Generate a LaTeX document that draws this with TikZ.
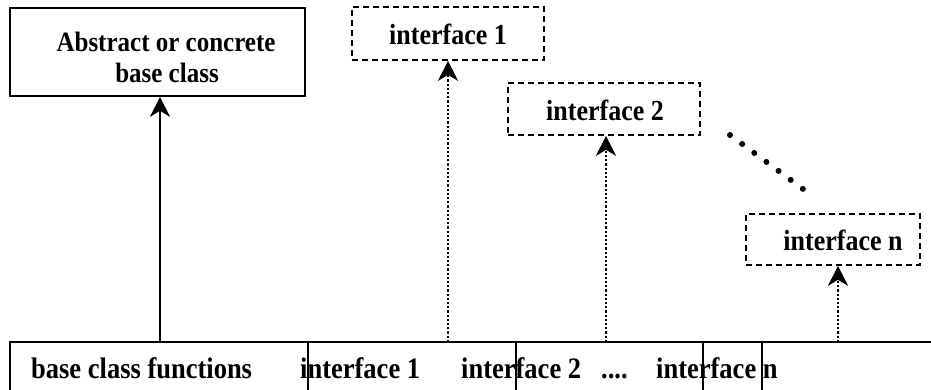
\documentclass[tikz,border=0pt]{standalone}
\usepackage{fontspec}
\usepackage{graphicx}
\setmainfont{Liberation Serif}
\usetikzlibrary{arrows.meta}
\newcommand\talltext[1]{\scalebox{1}[1.12]{#1}}
\begin{document}
\begin{tikzpicture}[x=1pt,y=-1pt,
  solidbox/.style={draw,line width=1.6pt,rectangle,inner sep=0pt},
  dashbox/.style={draw,line width=1.6pt,rectangle,dash pattern=on 6pt off 4pt,inner sep=0pt},
  lbl/.style={font=\fontsize{26}{31}\selectfont\bfseries,inner sep=0pt,anchor=base},
  btxt/.style={font=\fontsize{26.5}{32}\selectfont\bfseries,inner sep=0pt,anchor=base west},
  inh/.style={line width=2pt,-{Stealth[length=20pt,width=20pt,inset=6pt]}},
  impl/.style={line width=2.2pt,dash pattern=on 2.2pt off 2pt,-{Stealth[length=20pt,width=20pt,inset=6pt]}},
  gap/.style={line width=1.6pt}
]
\useasboundingbox (0,0) rectangle (931,390);
\clip (0,0) rectangle (931,390);

% boxes
\node[solidbox,minimum width=295pt,minimum height=88pt] (base) at (157.5,52) {};
\node[lbl,font=\fontsize{25}{31}\selectfont\bfseries] (basetxt1) at (166,52) {\talltext{Abstract or concrete}};
\node[lbl,font=\fontsize{25}{31}\selectfont\bfseries] (basetxt2) at (167,83) {\talltext{base class}};

\node[dashbox,minimum width=192pt,minimum height=53pt] (if1) at (448,33.5) {};
\node[lbl] (if1txt) at (448,45) {\talltext{interface 1}};

\node[dashbox,minimum width=192pt,minimum height=52pt] (if2) at (604,109) {};
\node[lbl] (if2txt) at (605,121) {\talltext{interface 2}};

\node[dashbox,minimum width=174pt,minimum height=51pt] (ifn) at (833,239.5) {};
\node[lbl] (ifntxt) at (843,250) {\talltext{interface n}};

% dotted ellipsis
\coordinate (d1) at (730,135);
\coordinate (d2) at (803,189);
\draw[line width=6pt,line cap=round,dash pattern=on 0pt off 15.1pt] (d1) -- (d2);

% bottom class bar
\coordinate (bl) at (10,400);
\coordinate (br) at (945,342);
\draw[gap] (bl) |- (br);
\foreach \x/\n in {308/v1,516/v2,703/v3,762/v4}{
  \coordinate (\n t) at (\x,342);
  \coordinate (\n b) at (\x,400);
  \draw[gap] (\n t) -- (\n b);
}
\node[btxt] (t0) at (31,378) {\talltext{base class functions}};
\node[btxt] (t1) at (300,378) {\talltext{interface 1}};
\node[btxt] (t2) at (461,378) {\talltext{interface 2}};
\node[btxt] (t3) at (601,378) {\talltext{....}};
\node[btxt] (t4) at (656,378) {\talltext{interface n}};

% connectors
\coordinate (a0) at (160,342);
\coordinate (a1) at (448,342);
\coordinate (a2) at (606,342);
\coordinate (a3) at (838,342);
\draw[inh] (a0) -- (a0 |- base.south);
\draw[impl] (a1) -- (a1 |- if1.south);
\draw[impl] (a2) -- (a2 |- if2.south);
\draw[impl] (a3) -- (a3 |- ifn.south);
\end{tikzpicture}
\end{document}
